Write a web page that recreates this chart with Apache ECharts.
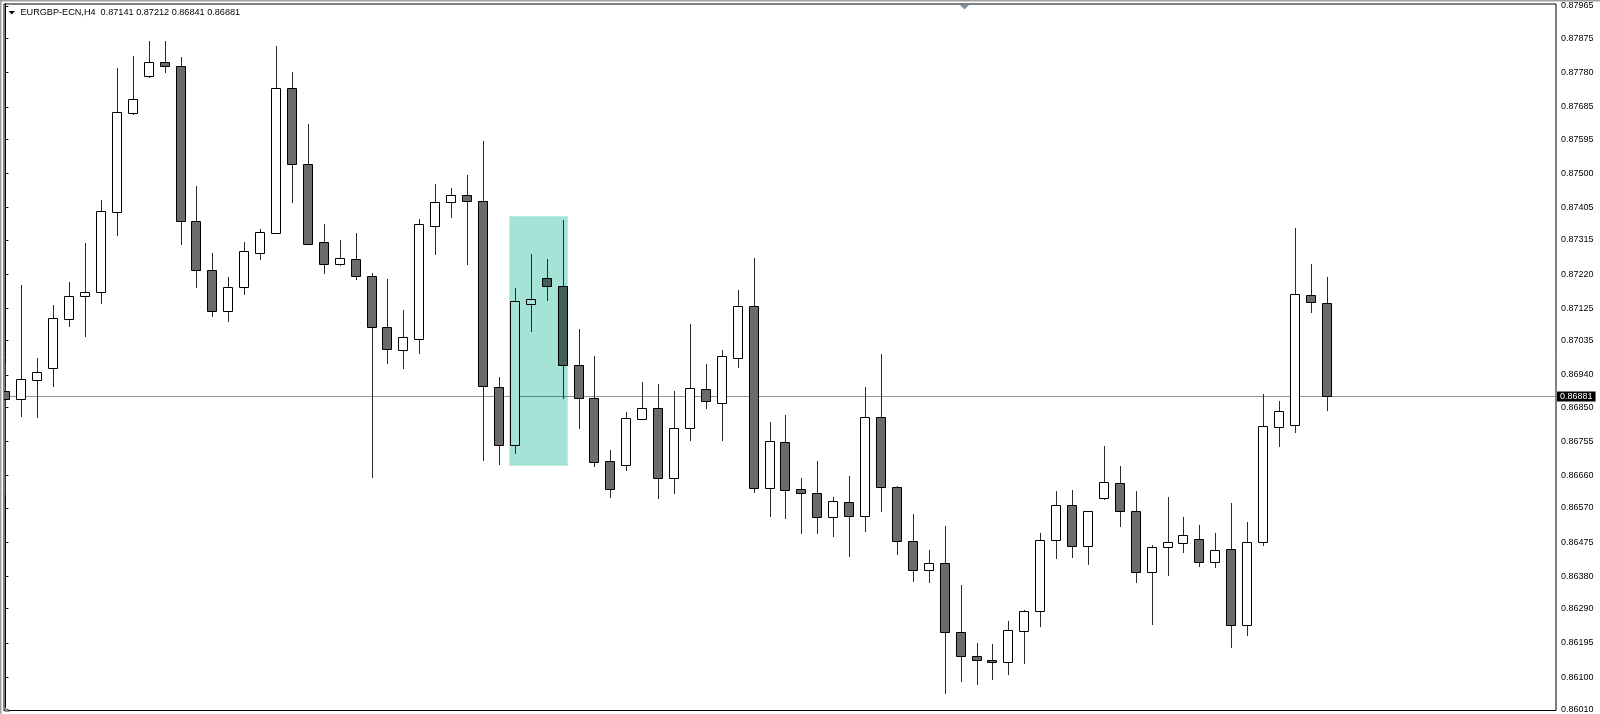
<!DOCTYPE html>
<html><head><meta charset="utf-8">
<script src="https://cdn.jsdelivr.net/npm/echarts@6/dist/echarts.min.js"></script>
<style>html,body{margin:0;padding:0;background:#fff;overflow:hidden}#chart{width:1600px;height:714px}</style>
</head><body><div id="chart"></div>
<script>
const symbolTitle = 'EURGBP-ECN,H4';
const opens = [0.86895,0.86874,0.86927,0.86958,0.87096,0.87159,0.87170,0.87393,0.87669,0.87771,
0.87810,0.87799,0.87368,0.87231,0.87117,0.87184,0.87280,0.87335,0.87736,0.87525,
0.87309,0.87247,0.87263,0.87214,0.87074,0.87010,0.87041,0.87354,0.87421,0.87440,
0.87424,0.86905,0.86746,0.87138,0.87209,0.87187,0.86968,0.86877,0.86701,0.86690,
0.86817,0.86849,0.86652,0.86792,0.86902,0.86863,0.86988,0.87131,0.86625,0.86752,
0.86623,0.86611,0.86544,0.86588,0.86547,0.86822,0.86628,0.86478,0.86397,0.86417,
0.86224,0.86158,0.86148,0.86142,0.86227,0.86285,0.86482,0.86578,0.86464,0.86597,
0.86640,0.86563,0.86392,0.86461,0.86472,0.86483,0.86420,0.86456,0.86244,0.86475,
0.86794,0.86800,0.87162,0.87141];
const highs = [0.86972,0.87190,0.86988,0.87133,0.87199,0.87307,0.87427,0.87792,0.87827,0.87868,
0.87868,0.87822,0.87464,0.87278,0.87212,0.87310,0.87344,0.87855,0.87783,0.87637,
0.87358,0.87314,0.87334,0.87224,0.87207,0.87119,0.87372,0.87471,0.87458,0.87496,
0.87591,0.86933,0.87182,0.87277,0.87263,0.87370,0.87068,0.86991,0.86732,0.86836,
0.86920,0.86914,0.86895,0.87080,0.86969,0.87008,0.87176,0.87265,0.86808,0.86829,
0.86653,0.86700,0.86600,0.86658,0.86907,0.86999,0.86630,0.86554,0.86454,0.86520,
0.86357,0.86195,0.86192,0.86255,0.86287,0.86501,0.86616,0.86619,0.86563,0.86743,
0.86686,0.86618,0.86467,0.86600,0.86544,0.86523,0.86501,0.86584,0.86531,0.86886,
0.86867,0.87349,0.87249,0.87212];
const lows = [0.86609,0.86826,0.86824,0.86909,0.87076,0.87048,0.87139,0.87328,0.87666,0.87767,
0.87781,0.87305,0.87183,0.87103,0.87089,0.87166,0.87263,0.87333,0.87420,0.87303,
0.87224,0.87244,0.87205,0.86657,0.86974,0.86960,0.87002,0.87277,0.87379,0.87247,
0.86703,0.86692,0.86723,0.87062,0.87147,0.86877,0.86791,0.86687,0.86601,0.86676,
0.86817,0.86597,0.86611,0.86759,0.86849,0.86759,0.86962,0.86615,0.86549,0.86542,
0.86500,0.86500,0.86493,0.86436,0.86507,0.86563,0.86441,0.86367,0.86364,0.86056,
0.86090,0.86080,0.86096,0.86110,0.86138,0.86241,0.86432,0.86434,0.86413,0.86595,
0.86519,0.86364,0.86248,0.86385,0.86447,0.86410,0.86405,0.86183,0.86216,0.86466,
0.86743,0.86782,0.87115,0.86841];
const closes = [0.86872,0.86928,0.86949,0.87099,0.87159,0.87171,0.87394,0.87670,0.87706,0.87810,
0.87799,0.87368,0.87231,0.87117,0.87184,0.87284,0.87336,0.87736,0.87525,0.87305,
0.87247,0.87264,0.87214,0.87074,0.87013,0.87044,0.87358,0.87421,0.87440,0.87423,
0.86908,0.86746,0.87145,0.87152,0.87187,0.86968,0.86877,0.86699,0.86622,0.86821,
0.86849,0.86652,0.86793,0.86903,0.86866,0.86991,0.87131,0.86625,0.86755,0.86621,
0.86611,0.86544,0.86590,0.86547,0.86822,0.86628,0.86478,0.86397,0.86417,0.86224,
0.86158,0.86147,0.86141,0.86230,0.86285,0.86482,0.86578,0.86464,0.86561,0.86643,
0.86563,0.86392,0.86461,0.86475,0.86494,0.86420,0.86453,0.86246,0.86475,0.86798,
0.86839,0.87164,0.87142,0.86881];
const yTickLabels = [0.87965,0.87875,0.87780,0.87685,0.87595,0.87500,0.87405,0.87315,0.87220,0.87125,0.87035,
0.86940,0.86850,0.86755,0.86660,0.86570,0.86475,0.86380,0.86290,0.86195,0.86100,0.86010];
const highlightFrom = 31.65, highlightTo = 35.32;
const highlightTop = 0.873808, highlightBottom = 0.866875;
const priceMin = 0.860072, priceMax = 0.879706;
const indexMin = -0.088, indexMax = 97.4;

const last = opens.length - 1;
const candleData = opens.map((o, i) => [i, o, highs[i], lows[i], closes[i]]);
const headerText = symbolTitle + '  ' + [opens[last], highs[last], lows[last], closes[last]].map(v => v.toFixed(5)).join(' ');
const FONT_FAMILY = 'Liberation Sans';
const HEADER_FONT = '9.15px "Liberation Sans"';
const LABEL_FONT = '9px "Liberation Sans"';

const BOX_FILL = '#a4e3d5';
function insideBox(i) { return i >= highlightFrom && i <= highlightTo; }

function renderCandle(params, api) {
  const i = api.value(0), o = api.value(1), h = api.value(2), l = api.value(3), c = api.value(4);
  const pO = api.coord([i, o]), pC = api.coord([i, c]);
  const yH = api.coord([i, h])[1], yL = api.coord([i, l])[1];
  const cx = pO[0];
  const left = Math.round(cx - 5);
  const wx = left + 5.5;
  let top = Math.round(Math.min(pO[1], pC[1])) + 0.5;
  let bot = Math.round(Math.max(pO[1], pC[1])) + 0.5;
  if (bot - top < 1) bot = top + 1;
  const bull = c >= o;
  const tinted = insideBox(i);
  const fill = bull ? (tinted ? BOX_FILL : '#ffffff') : (tinted ? '#455f59' : '#6b6b6b');
  return {
    type: 'group',
    children: [
      { type: 'line', shape: { x1: wx, y1: Math.round(yH), x2: wx, y2: Math.round(yL) + 1 }, style: { stroke: '#2a2a2a', lineWidth: 1 } },
      { type: 'rect', shape: { x: left + 0.5, y: top, width: 9, height: bot - top }, style: { fill: fill, stroke: '#000', lineWidth: 1 } }
    ]
  };
}

function renderBox(params, api) {
  const p0 = api.coord([api.value(0), api.value(2)]);
  const p1 = api.coord([api.value(1), api.value(3)]);
  return { type: 'rect', shape: { x: p0[0], y: p0[1], width: p1[0] - p0[0], height: p1[1] - p0[1] }, style: { fill: BOX_FILL } };
}

function renderPriceLine(params, api) {
  const cs = params.coordSys;
  const v = api.value(1);
  const y = Math.round(api.coord([api.value(0), v])[1]) + 0.5;
  const bx0 = api.coord([highlightFrom, v])[0], bx1 = api.coord([highlightTo, v])[0];
  const inBoxV = v <= highlightTop && v >= highlightBottom;
  const children = [
    { type: 'line', shape: { x1: cs.x, y1: y, x2: cs.x + cs.width, y2: y }, style: { stroke: '#8a96a3', lineWidth: 1 } },
    { type: 'text', x: cs.x + cs.width + 1, y: y, style: { text: v.toFixed(5), fill: '#fff', backgroundColor: '#000', padding: [1, 3, 0, 3], font: LABEL_FONT, verticalAlign: 'middle', align: 'left' } }
  ];
  if (inBoxV) {
    children.push({ type: 'line', shape: { x1: bx0, y1: y, x2: bx1, y2: y }, style: { stroke: '#5a8589', lineWidth: 1 } });
  }
  return { type: 'group', children: children };
}

const chart = echarts.init(document.getElementById('chart'), null, { renderer: 'canvas' });
chart.setOption({
  animation: false,
  backgroundColor: '#ffffff',
  grid: { left: 4, top: 4, right: 44, bottom: 2, show: true, borderColor: '#000', borderWidth: 1, backgroundColor: '#ffffff' },
  xAxis: { type: 'value', min: indexMin, max: indexMax, show: false },
  yAxis: {
    type: 'value', position: 'right', min: priceMin, max: priceMax, scale: true,
    axisLine: { show: true, lineStyle: { color: '#000', width: 1 } },
    axisTick: { show: true, length: 3, customValues: yTickLabels, lineStyle: { color: '#000' } },
    axisLabel: { customValues: yTickLabels, formatter: v => v.toFixed(5), color: '#000', fontSize: 9, fontFamily: FONT_FAMILY, margin: 5 },
    splitLine: { show: false }
  },
  graphic: [
    { type: 'rect', shape: { x: 0, y: 0, width: 1600, height: 1.5 }, style: { fill: '#a0a0a0' }, z: 100 },
    { type: 'rect', shape: { x: 0, y: 0, width: 1.5, height: 714 }, style: { fill: '#a0a0a0' }, z: 100 },
    { type: 'polygon', shape: { points: [[8.5, 11], [15, 11], [11.75, 14.5]] }, style: { fill: '#000' }, z: 100 },
    { type: 'text', x: 20.5, y: 12.5, style: { text: headerText, fill: '#000', font: HEADER_FONT, verticalAlign: 'middle', align: 'left' }, z: 100 },
    { type: 'polygon', shape: { points: [[960, 5], [969, 5], [964.5, 9.5]] }, style: { fill: '#7f90a3' }, z: 100 },
    { type: 'polygon', shape: { points: [[5, 707], [5, 712], [10, 712]] }, style: { fill: '#8090a0' }, z: 100 }
  ],
  series: [
    { type: 'custom', name: 'highlight', z: 1, clip: true, silent: true, renderItem: renderBox, encode: { x: [0, 1], y: [2, 3] }, data: [[highlightFrom, highlightTo, highlightTop, highlightBottom]] },
    { type: 'custom', name: 'price', z: 2, clip: false, silent: true, renderItem: renderPriceLine, encode: { x: 0, y: 1 }, data: [[last, closes[last]]] },
    { type: 'custom', name: 'EURGBP', z: 3, clip: true, renderItem: renderCandle, encode: { x: 0, y: [1, 2, 3, 4] }, data: candleData }
  ]
});
</script></body></html>
